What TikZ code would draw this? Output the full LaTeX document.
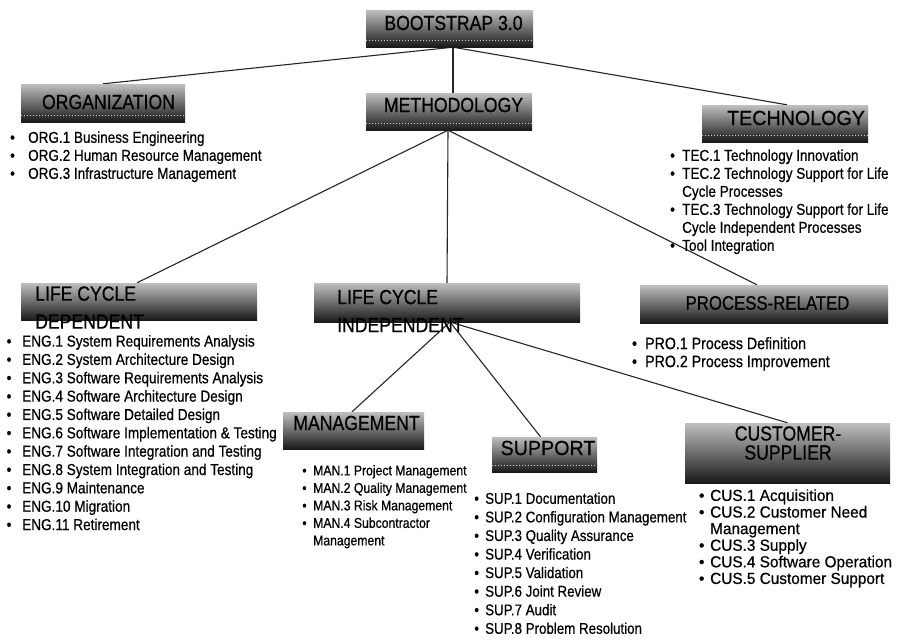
\documentclass[tikz,border=0pt]{standalone}
\usepackage{fontspec}
\setmainfont{Liberation Sans}[FakeStretch=0.86,FakeBold=0.6]
\newfontfamily\widefont{Liberation Sans}[FakeStretch=0.96,FakeBold=0.6]
\usetikzlibrary{backgrounds}
\newlength\bgap
\newcommand\bi{\llap{\textbullet\hspace{\bgap}}}

\tikzset{
  hbox/.style={shade, top color=black!25, middle color=black!45, bottom color=black!90,
               inner sep=0pt, draw=none},
  htext/.style={inner sep=0pt, text=black, font=\fontsize{20.5}{24}\selectfont},
  blist/.style={inner sep=0pt, anchor=north west, text=black},
  link/.style={line width=1.1pt, black!85},
  stripe/.style={black!20, dotted, line width=1pt},
}

\begin{document}
\begin{tikzpicture}[x=1pt,y=-1pt]
\useasboundingbox (0,0) rectangle (901,641);

% heading boxes
\node[hbox, minimum width=167pt, minimum height=37pt] (boot) at (449.5,28.5) {};
\node[hbox, minimum width=164pt, minimum height=38pt] (org)  at (103,103) {};
\node[hbox, minimum width=166pt, minimum height=37pt] (meth) at (449,111.5) {};
\node[hbox, minimum width=166pt, minimum height=37pt] (tech) at (785,123.5) {};
\node[hbox, minimum width=236pt, minimum height=37pt] (lcd)  at (139,301.5) {};
\node[hbox, minimum width=266pt, minimum height=39pt] (lci)  at (447,302.5) {};
\node[hbox, minimum width=248pt, minimum height=38pt] (proc) at (764,304) {};
\node[hbox, minimum width=141pt, minimum height=37pt] (man)  at (353.5,430.5) {};
\node[hbox, minimum width=105pt, minimum height=35pt] (sup)  at (544.5,454.5) {};
\node[hbox, minimum width=205pt, minimum height=60pt] (cus)  at (787.5,453) {};

% dotted light band near the bottom of the smaller boxes
\foreach \b in {boot,org,meth,tech,sup}
  \draw[stripe] ([yshift=7pt]\b.south west) -- ([yshift=7pt]\b.south east);

% branch points
\coordinate (boot-hub) at ([xshift=3.5pt]boot.south);
\coordinate (meth-top) at (boot-hub |- meth.north);
\coordinate (lci-hub) at (450,322);

\begin{pgfonlayer}{background}
  \fill[white] (0,0) rectangle (901,641);
  \draw[link] (boot-hub) -- (org.north);
  \draw[link] (boot-hub) -- (meth-top);
  \draw[link] (boot-hub) -- ([xshift=2pt]tech.north);
  \draw[link] ([xshift=-1pt]meth.south) -- ([xshift=-2pt]lcd.north);
  \draw[link] ([xshift=-1pt]meth.south) -- (lci.north);
  \draw[link] ([xshift=-1pt]meth.south) -- ([xshift=-7pt]proc.north);
  \draw[link] (lci-hub) -- ([xshift=-1.5pt]man.north);
  \draw[link] (lci-hub) -- ([xshift=-4pt]sup.north);
  \draw[link] (lci-hub) -- (cus.north);
\end{pgfonlayer}

% heading texts
\node[htext] (boot-t) at (453.5,23) {BOOTSTRAP 3.0};
\node[htext] (org-t)  at (108.5,102) {ORGANIZATION};
\node[htext] (meth-t) at (453.5,105) {METHODOLOGY};
\node[htext, font=\widefont\fontsize{20.5}{24}\selectfont] (tech-t) at (796,118) {TECHNOLOGY};
\node[htext, align=left, anchor=west, font=\fontsize{20.5}{28}\selectfont] (lcd-t) at (35,307.5) {LIFE CYCLE\\DEPENDENT};
\node[htext, align=left, anchor=west, font=\fontsize{20.5}{28}\selectfont] (lci-t) at (337,311) {LIFE CYCLE\\INDEPENDENT};
\node[htext, font=\fontsize{19.5}{24}\selectfont] (proc-t) at (767.5,303) {PROCESS-RELATED};
\node[htext] (man-t)  at (356.5,423) {MANAGEMENT};
\node[htext, font=\widefont\fontsize{20.5}{24}\selectfont] (sup-t) at (548,448) {SUPPORT};
\node[htext, align=center, font=\fontsize{20.5}{19}\selectfont] (cus-t) at (788,443) {CUSTOMER-\\SUPPLIER};

% process lists
\node[blist] (org-l) at (28,130) {\fontsize{15.7}{18}\selectfont\setlength\bgap{13.3pt}%
\begin{tabular}{@{}l@{}}
\bi ORG.1 Business Engineering\\
\bi ORG.2 Human Resource Management\\
\bi ORG.3 Infrastructure Management
\end{tabular}};

\node[blist] (tech-l) at (682,148) {\fontsize{15.7}{18}\selectfont\setlength\bgap{7.3pt}%
\begin{tabular}{@{}l@{}}
\bi TEC.1 Technology Innovation\\
\bi TEC.2 Technology Support for Life\\
Cycle Processes\\
\bi TEC.3 Technology Support for Life\\
Cycle Independent Processes\\
\bi Tool Integration
\end{tabular}};

\node[blist] (lcd-l) at (22,333.5) {\fontsize{15.8}{18.35}\selectfont\setlength\bgap{10.8pt}%
\begin{tabular}{@{}l@{}}
\bi ENG.1 System Requirements Analysis\\
\bi ENG.2 System Architecture Design\\
\bi ENG.3 Software Requirements Analysis\\
\bi ENG.4 Software Architecture Design\\
\bi ENG.5 Software Detailed Design\\
\bi ENG.6 Software Implementation \& Testing\\
\bi ENG.7 Software Integration and Testing\\
\bi ENG.8 System Integration and Testing\\
\bi ENG.9 Maintenance\\
\bi ENG.10 Migration\\
\bi ENG.11 Retirement
\end{tabular}};

\node[blist] (proc-l) at (645,336.3) {\fontsize{16.5}{18}\selectfont\setlength\bgap{8.2pt}%
\begin{tabular}{@{}l@{}}
\bi PRO.1 Process Definition\\
\bi PRO.2 Process Improvement
\end{tabular}};

\node[blist] (man-l) at (313,462.9) {\fontsize{14.2}{17.5}\selectfont\setlength\bgap{6.6pt}%
\begin{tabular}{@{}l@{}}
\bi MAN.1 Project Management\\
\bi MAN.2 Quality Management\\
\bi MAN.3 Risk Management\\
\bi MAN.4 Subcontractor\\
Management
\end{tabular}};

\node[blist] (sup-l) at (485,490.6) {\fontsize{15.5}{18.57}\selectfont\setlength\bgap{6.2pt}%
\begin{tabular}{@{}l@{}}
\bi SUP.1 Documentation\\
\bi SUP.2 Configuration Management\\
\bi SUP.3 Quality Assurance\\
\bi SUP.4 Verification\\
\bi SUP.5 Validation\\
\bi SUP.6 Joint Review\\
\bi SUP.7 Audit\\
\bi SUP.8 Problem Resolution
\end{tabular}};

\node[blist] (cus-l) at (710,489.1) {\widefont\fontsize{16}{16.6}\selectfont\setlength\bgap{5.8pt}%
\begin{tabular}{@{}l@{}}
\bi CUS.1 Acquisition\\
\bi CUS.2 Customer Need\\
Management\\
\bi CUS.3 Supply\\
\bi CUS.4 Software Operation\\
\bi CUS.5 Customer Support
\end{tabular}};
\end{tikzpicture}
\end{document}
